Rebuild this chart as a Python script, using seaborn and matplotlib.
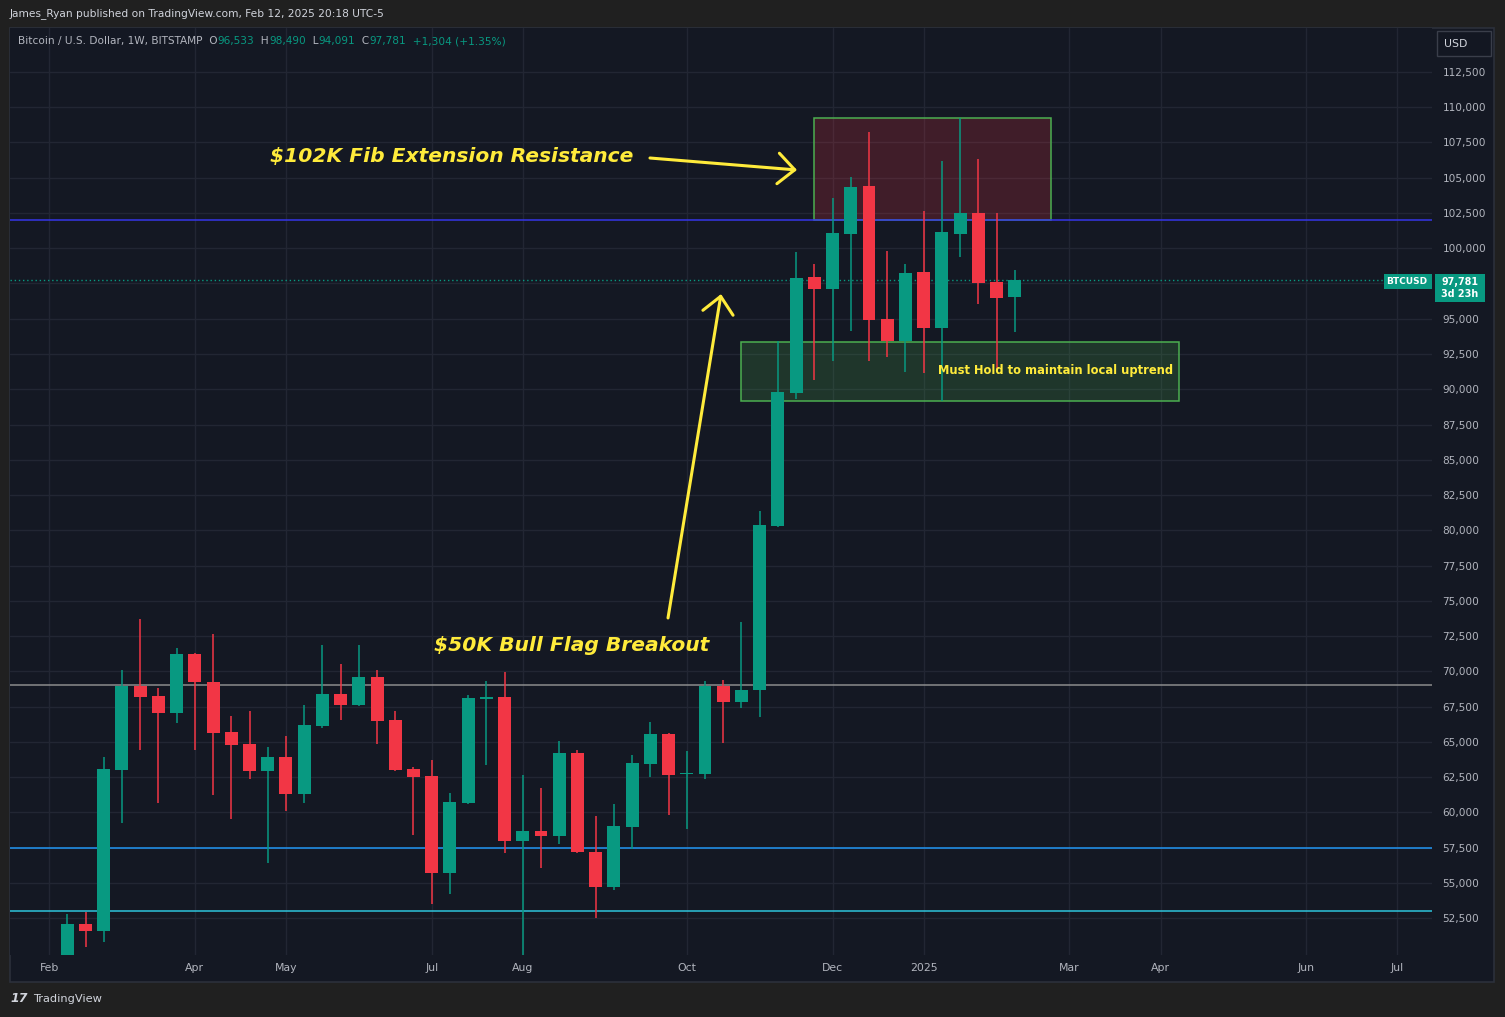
import numpy as np
import pandas as pd
import matplotlib
matplotlib.use("Agg")
import matplotlib.pyplot as plt
import seaborn as sns
from matplotlib.patches import Rectangle

# ---------------- data (weekly BTC/USD) ----------------
week_start = ["2024-02-12", "2024-02-19", "2024-02-26", "2024-03-04", "2024-03-11", "2024-03-18",
              "2024-03-25", "2024-04-01", "2024-04-08", "2024-04-15", "2024-04-22", "2024-04-29",
              "2024-05-06", "2024-05-13", "2024-05-20", "2024-05-27", "2024-06-03", "2024-06-10",
              "2024-06-17", "2024-06-24", "2024-07-01", "2024-07-08", "2024-07-15", "2024-07-22",
              "2024-07-29", "2024-08-05", "2024-08-12", "2024-08-19", "2024-08-26", "2024-09-02",
              "2024-09-09", "2024-09-16", "2024-09-23", "2024-09-30", "2024-10-07", "2024-10-14",
              "2024-10-21", "2024-10-28", "2024-11-04", "2024-11-11", "2024-11-18", "2024-11-25",
              "2024-12-02", "2024-12-09", "2024-12-16", "2024-12-23", "2024-12-30", "2025-01-06",
              "2025-01-13", "2025-01-20", "2025-01-27", "2025-02-03", "2025-02-10"]
opens = [48300, 52080, 51580, 63000, 68950, 68250, 67040, 71230, 69260, 65690, 64840, 62950,
         63920, 61320, 66120, 68390, 67610, 69590, 66540, 63070, 62570, 55690, 60660, 68030,
         68180, 57980, 58670, 58340, 64200, 57200, 54720, 58960, 63420, 65550, 62710, 62710,
         68950, 67820, 68670, 80320, 89760, 97960, 97130, 101030, 104420, 94980, 93440, 98320,
         94370, 101030, 102500, 97610, 96533]
highs = [52790, 52950, 63920, 70090, 73710, 68810, 71650, 71300, 72640, 66830, 67180, 64630,
         65410, 67610, 71860, 70520, 71860, 70090, 67180, 63210, 63710, 61370, 68320, 69310,
         69950, 62640, 61720, 65060, 64420, 59740, 60590, 64060, 66400, 65620, 64350, 69310,
         69380, 73490, 81370, 93420, 99730, 98880, 103560, 105050, 108250, 99800, 98880, 102640,
         106190, 109220, 106330, 102500, 98490]
lows = [47700, 50470, 50820, 59260, 64420, 60680, 66350, 64420, 61250, 59540, 62380, 56420,
        60110, 60680, 65980, 66540, 67540, 64840, 62900, 58410, 53520, 54230, 60590, 63350,
        57130, 49800, 56070, 57770, 57130, 52520, 54510, 57420, 62500, 59810, 58810, 62360,
        64910, 67400, 66760, 80250, 89330, 90680, 92030, 94150, 92030, 92310, 91250, 91170,
        89170, 99400, 96070, 91460, 94091]
closes = [52080, 51580, 63070, 68950, 68180, 67040, 71230, 69260, 65640, 64790, 62950, 63920,
          61320, 66190, 68390, 67610, 69590, 66470, 63000, 62520, 55690, 60730, 68100, 68180,
          57980, 58670, 58340, 64200, 57200, 54720, 59030, 63490, 65550, 62640, 62790, 68950,
          67820, 68670, 80370, 89810, 97890, 97130, 101080, 104340, 94930, 93440, 98250, 94370,
          101150, 102500, 97560, 96480, 97781]

level_prices = [102000, 69000, 57500, 53000]
level_colors = ["#3535e8", "#8c8c8c", "#2196f3", "#2ec4dc"]

month_tick_dates = ["2024-02-05", "2024-04-01", "2024-05-06", "2024-07-01", "2024-08-05",
                    "2024-10-07", "2024-12-02", "2025-01-06", "2025-03-03", "2025-04-07",
                    "2025-06-02", "2025-07-07"]
month_tick_labels = ["Feb", "Apr", "May", "Jul", "Aug", "Oct", "Dec", "2025", "Mar", "Apr",
                     "Jun", "Jul"]
price_ticks = list(range(52500, 112501, 2500))

resist_zone = ("2024-11-25", "2025-02-24", 102000, 109240)
support_zone = ("2024-10-28", "2025-04-14", 89170, 93350)

last_price = 97781

# ---------------- styling ----------------
W, H = 1505, 1017
UP, DOWN = "#089981", "#f23645"
BG_OUT = "#202020"
BG = "#141823"
GRID = "#222633"
TXT = "#b2b5be"
YEL = "#ffeb3b"

sns.set_theme(style="dark", rc={"axes.facecolor": BG, "figure.facecolor": BG_OUT})
plt.rcParams["font.family"] = ["DejaVu Sans"]

df = pd.DataFrame({"week": pd.to_datetime(week_start), "open": opens, "high": highs,
                   "low": lows, "close": closes})
t0 = df["week"].iloc[0]


def xpos(d):
    return (pd.Timestamp(d) - t0).days / 7.0


df["x"] = (df["week"] - t0).dt.days / 7.0
df["up"] = df["close"] >= df["open"]
colors = np.where(df["up"], UP, DOWN)


def px(x, y):
    return x / W, 1 - y / H


fig = plt.figure(figsize=(W / 100, H / 100), dpi=100)
fig.patch.set_facecolor(BG_OUT)
# chart panel (behind the axes)
fig.patches.append(Rectangle(px(10, 982), 1484 / W, 954 / H, transform=fig.transFigure,
                             facecolor=BG, edgecolor="#2c303b", lw=1.2, zorder=-5))

ax = fig.add_axes([10 / W, 1 - 955 / H, 1422 / W, 927 / H])
ax.set_zorder(1)
ax.set_facecolor(BG)
for s in ax.spines.values():
    s.set_visible(False)

# grid
ax.set_yticks(price_ticks)
ax.set_yticklabels([f"{v:,}" for v in price_ticks])
ax.set_xticks([xpos(d) for d in month_tick_dates])
ax.set_xticklabels(month_tick_labels)
ax.grid(True, color=GRID, lw=1)
ax.set_axisbelow(True)
ax.yaxis.tick_right()
ax.tick_params(axis="y", length=0, pad=7.5, labelsize=7.6, labelcolor=TXT)
ax.tick_params(axis="x", length=0, pad=6, labelsize=7.8, labelcolor=TXT)

# zones
for (d0, d1, p0, p1), fc in [(resist_zone, "#f23645"), (support_zone, "#4caf50")]:
    ax.add_patch(Rectangle((xpos(d0), p0), xpos(d1) - xpos(d0), p1 - p0,
                           facecolor=fc, alpha=0.2, edgecolor="none", zorder=1))
    ax.add_patch(Rectangle((xpos(d0), p0), xpos(d1) - xpos(d0), p1 - p0,
                           facecolor="none", edgecolor="#4caf50", lw=1.1, zorder=1.1))

# horizontal levels
for p, c in zip(level_prices, level_colors):
    ax.axhline(p, color=c, lw=1.1, zorder=1.5)
ax.axhline(last_price, color=UP, lw=1, ls=(0, (1, 2)), zorder=1.5)

# candles
ax.vlines(df["x"], df["low"], df["high"], colors=colors, lw=1.1, zorder=2)
body_lo = np.minimum(df["open"], df["close"])
body_h = np.maximum(np.abs(df["close"] - df["open"]), 80)
ax.bar(df["x"], body_h, bottom=body_lo, width=0.71, color=colors, lw=0, zorder=3)

ax.set_xlim((10 - 67.3) / 18.22, (1432 - 67.3) / 18.22)
ax.set_ylim(49877, 115620)

# annotations
ax.text(21.1, 106540, "$102K Fib Extension Resistance", color=YEL, fontsize=14.6,
        fontweight="bold", fontstyle="italic", ha="center", va="center", zorder=5)
ax.text(27.7, 71800, "$50K Bull Flag Breakout", color=YEL, fontsize=14.6,
        fontweight="bold", fontstyle="italic", ha="center", va="center", zorder=5)
ax.text(54.25, 91295, "Must Hold to maintain local uptrend", color=YEL, fontsize=8.3,
        fontweight="bold", ha="center", va="center", zorder=5)
arrow_kw = dict(arrowstyle="->,head_length=0.6,head_width=0.55", color=YEL, lw=2.2,
                mutation_scale=20, shrinkA=0, shrinkB=0)
ax.annotate("", xy=(40.05, 105550), xytext=(31.98, 106400), arrowprops=arrow_kw, zorder=5)
ax.annotate("", xy=(35.88, 96750), xytext=(32.97, 73780), arrowprops=arrow_kw, zorder=5)

# ---------------- header / chrome ----------------
fig.text(*px(10, 14), "James_Ryan published on TradingView.com, Feb 12, 2025 20:18 UTC-5",
         color="#d1d4dc", fontsize=7.7, va="center", ha="left")

renderer = fig.canvas.get_renderer()
pieces = [("Bitcoin / U.S. Dollar, 1W, BITSTAMP  O", TXT), ("96,533", UP), ("  H", TXT),
          ("98,490", UP), ("  L", TXT), ("94,091", UP), ("  C", TXT), ("97,781", UP),
          ("  +1,304 (+1.35%)", UP)]
xcur = 18
for s, c in pieces:
    t = fig.text(*px(xcur, 41), s, color=c, fontsize=7.6, va="center", ha="left", zorder=3)
    bb = t.get_window_extent(renderer)
    xcur += bb.width

# USD box
fig.patches.append(Rectangle(px(1437, 56), 54 / W, 25 / H, transform=fig.transFigure,
                             facecolor="#131722", edgecolor="#3a3e4a", lw=1, zorder=2))
fig.text(*px(1456, 44), "USD", color="#d1d4dc", fontsize=7.8, ha="center", va="center",
         zorder=3)

# last price tags
fig.patches.append(Rectangle(px(1384, 289), 48 / W, 15 / H, transform=fig.transFigure,
                             facecolor=UP, edgecolor="none", zorder=2))
fig.text(*px(1407, 281.5), "BTCUSD", color="white", fontsize=6.5, fontweight="bold",
         ha="center", va="center", zorder=3)
fig.patches.append(Rectangle(px(1435, 302), 50 / W, 28 / H, transform=fig.transFigure,
                             facecolor=UP, edgecolor="none", zorder=2))
fig.text(*px(1460, 288), f"{last_price:,}\n3d 23h", color="white", fontsize=6.9,
         fontweight="bold", ha="center", va="center", linespacing=1.3, zorder=3)

# footer logo
fig.text(*px(10, 999), "17", color="#d1d4dc", fontsize=9, fontweight="bold",
         fontstyle="italic", ha="left", va="center")
fig.text(*px(33, 999), "TradingView", color="#d1d4dc", fontsize=8.2, ha="left", va="center")

fig.savefig("out.png", dpi=100, facecolor=BG_OUT)
